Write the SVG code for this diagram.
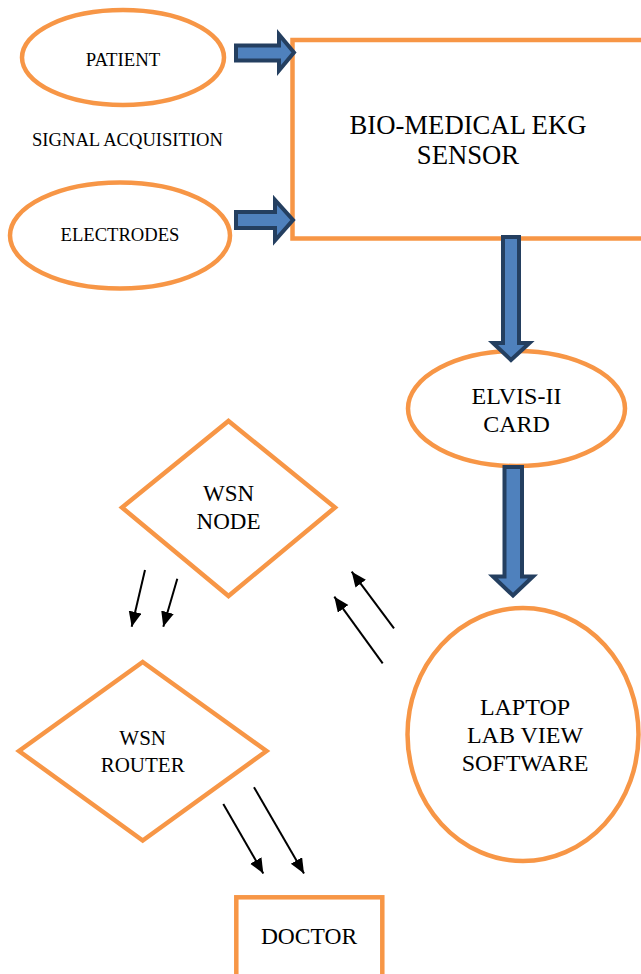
<svg xmlns="http://www.w3.org/2000/svg" width="641" height="974" viewBox="0 0 641 974">
<style>
.shape{fill:#FFFFFF;stroke:#F79646;stroke-width:4.5}
.blk{fill:#4F81BD;stroke:#243F60;stroke-width:4;stroke-linejoin:miter}
.ln{stroke:#000000;stroke-width:2;fill:none}
.t{fill:#000000;text-anchor:middle}
</style>
<defs>
<marker id="ah" markerUnits="userSpaceOnUse" markerWidth="16" markerHeight="14" refX="15" refY="6.5" orient="auto">
<path d="M0,0 L15,6.5 L0,13 z" fill="#000000"/>
</marker>
</defs>
<rect width="641" height="974" fill="#FFFFFF"/>
<g font-family="Liberation Serif, DejaVu Serif, serif">
<g id="patient">
<ellipse class="shape" cx="123" cy="57.5" rx="101" ry="47.5"/>
<text class="t" x="123" y="65.5" font-size="18.8">PATIENT</text>
</g>
<g id="signal-label">
<text class="t" x="127.5" y="146" font-size="18.6">SIGNAL ACQUISITION</text>
</g>
<g id="electrodes">
<ellipse class="shape" cx="120" cy="235.5" rx="110" ry="53"/>
<text class="t" x="120" y="240.5" font-size="18.6">ELECTRODES</text>
</g>
<g id="sensor">
<rect class="shape" x="292.5" y="40" width="360" height="198.5"/>
<text class="t" x="468" y="133.5" font-size="26.7">BIO-MEDICAL EKG</text>
<text class="t" x="468" y="164" font-size="26.7">SENSOR</text>
</g>
<g id="elvis">
<ellipse class="shape" cx="516.5" cy="408.5" rx="108.5" ry="57.5"/>
<text class="t" x="516.5" y="404" font-size="24">ELVIS-II</text>
<text class="t" x="516.5" y="431.5" font-size="24">CARD</text>
</g>
<g id="laptop">
<ellipse class="shape" cx="523" cy="734.5" rx="115.5" ry="126.5"/>
<text class="t" x="525" y="715" font-size="24">LAPTOP</text>
<text class="t" x="525" y="743" font-size="24">LAB VIEW</text>
<text class="t" x="525" y="771" font-size="24">SOFTWARE</text>
</g>
<g id="wsn-node">
<polygon class="shape" points="228.5,421 335,507.5 228.5,596 122,507.5"/>
<text class="t" x="228.5" y="501" font-size="23">WSN</text>
<text class="t" x="228.5" y="528.5" font-size="23">NODE</text>
</g>
<g id="wsn-router">
<polygon class="shape" points="142.7,662 266.5,751 142.7,840.5 19,751"/>
<text class="t" x="142.7" y="745" font-size="21">WSN</text>
<text class="t" x="142.7" y="771.5" font-size="21">ROUTER</text>
</g>
<g id="doctor">
<rect class="shape" x="236.3" y="897.3" width="146" height="90"/>
<text class="t" x="309" y="944.3" font-size="23.5">DOCTOR</text>
</g>
</g>
<g id="connectors">
<polygon class="blk" points="236,45.5 279,45.5 279,34.5 294,52.5 279,70.5 279,60.5 236,60.5"/>
<polygon class="blk" points="236,212 275,212 275,200 293,220 275,240.5 275,228 236,228"/>
<polygon class="blk" points="503,237 519,237 519,343 529.5,343 511,360 493,343 503,343"/>
<polygon class="blk" points="504.5,467 522,467 522,576.5 533,576.5 513,595.5 493,576.5 504.5,576.5"/>
<line class="ln" x1="145" y1="570" x2="131.7" y2="626.7" marker-end="url(#ah)"/>
<line class="ln" x1="177.3" y1="578.7" x2="163.3" y2="626.7" marker-end="url(#ah)"/>
<line class="ln" x1="394" y1="628.3" x2="351.7" y2="571.7" marker-end="url(#ah)"/>
<line class="ln" x1="382.7" y1="663.3" x2="334.3" y2="596.7" marker-end="url(#ah)"/>
<line class="ln" x1="223.3" y1="804" x2="263.3" y2="873.5" marker-end="url(#ah)"/>
<line class="ln" x1="254" y1="787.3" x2="304" y2="873.5" marker-end="url(#ah)"/>
</g>
</svg>
